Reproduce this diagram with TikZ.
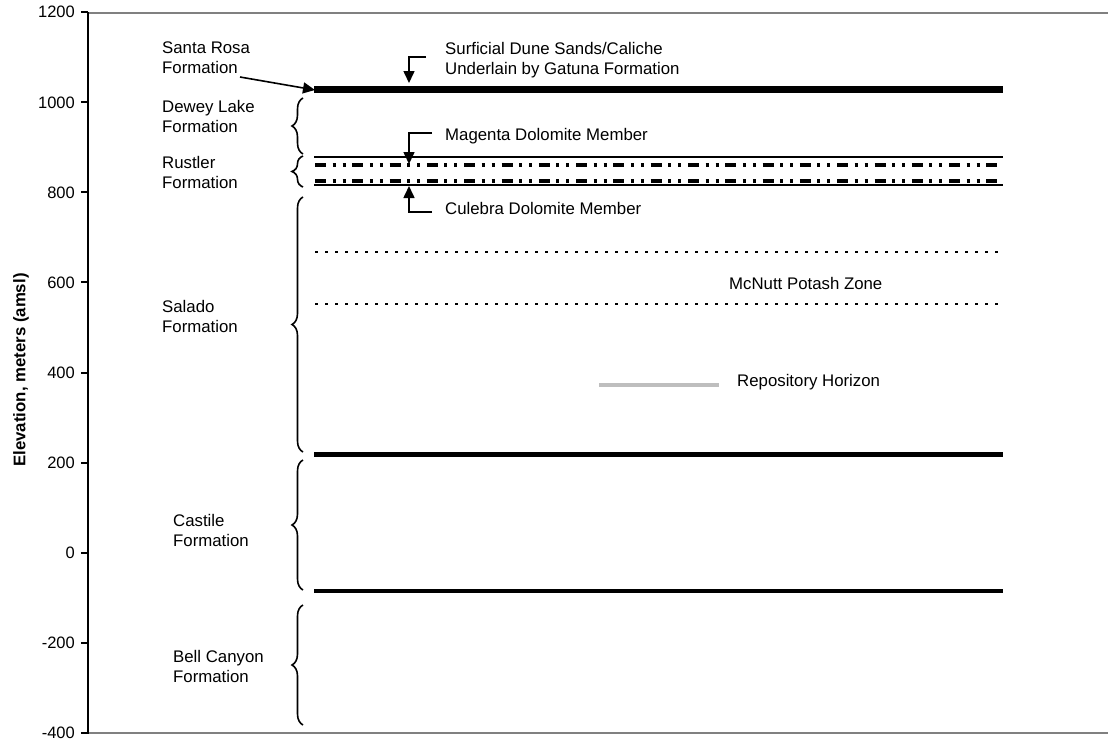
\documentclass[tikz,border=0pt]{standalone}
\usepackage{fontspec}
\setmainfont{Liberation Sans}
\usetikzlibrary{arrows.meta,decorations.pathreplacing}
\definecolor{framegray}{RGB}{128,128,128}
\definecolor{repogray}{RGB}{190,190,190}
\begin{document}
\begin{tikzpicture}[x=1pt,y=-1pt,
  lbl/.style={font=\fontsize{16.8}{20}\selectfont, align=left, anchor=west, inner sep=0pt},
  ticklbl/.style={font=\fontsize{16.5}{20}\selectfont, anchor=east, inner sep=0pt},
  brc/.style={decorate, decoration={brace, amplitude=11pt}, line width=1.6pt},
  arr/.style={line width=1.6pt, -{Triangle[width=11pt,length=12pt]}},
  conn/.style={line width=1.6pt},
  thickbed/.style={line width=7.5pt},
  boldbed/.style={line width=4.5pt},
  thinbed/.style={line width=2pt},
  ddbed/.style={line width=4pt, dash pattern=on 11pt off 6.5pt on 3pt off 7pt on 3pt off 6.8pt},
  dotbed/.style={line width=2pt, dash pattern=on 3pt off 7pt},
  repo/.style={line width=4pt, draw=repogray},
  frame/.style={line width=2pt, draw=framegray},
  axis/.style={line width=2pt}]
\useasboundingbox (0,0) rectangle (1108,742);
% frame
\draw[frame] (88,12.7) -- (1108,12.7);
\draw[frame] (88,732.7) -- (1108,732.7);
\draw[axis] (88,12.3) -- (88,733.5);
% ticks
\foreach \v [count=\i from 0] in {1200,1000,...,-400}{
  \pgfmathsetmacro{\yy}{12.3+0.45025*(1200-\v)}
  \draw[axis] (81,\yy) -- (88,\yy);
  \node[ticklbl] (t\i) at (75,\yy) {\v};
}
\node[rotate=90, font=\fontsize{16.8}{20}\selectfont\bfseries, inner sep=0pt] (ylab) at (21,370) {Elevation, meters (amsl)};
% beds
\draw[thickbed] (314,89.5) -- (1003,89.5);
\draw[thinbed] (314,156.5) -- (1003,156.5);
\draw[ddbed] (315,165) -- (1003,165);
\draw[ddbed] (315,180.5) -- (1003,180.5);
\draw[thinbed] (314,185) -- (1003,185);
\draw[dotbed] (315,251.7) -- (1003,251.7);
\draw[dotbed] (315,304) -- (1003,304);
\draw[repo] (599,384.7) -- (719,384.7);
\draw[boldbed] (314,454.3) -- (1003,454.3);
\draw[boldbed] (314,591) -- (1003,591);
% formation labels
\node[lbl] (srosa) at (162,58) {Santa Rosa\\Formation};
\node[lbl] (dewey) at (162,116) {Dewey Lake\\Formation};
\node[lbl] (rustler) at (162,172) {Rustler\\Formation};
\node[lbl] (salado) at (162,316.5) {Salado\\Formation};
\node[lbl] (castile) at (173,530.5) {Castile\\Formation};
\node[lbl] (bell) at (173,666) {Bell Canyon\\Formation};
% braces
\draw[brc] (303,154) -- (303,98);
\draw[brc] (303,187) -- (303,156);
\draw[brc] (303,452) -- (303,197);
\draw[brc] (303,590) -- (303,460);
\draw[brc] (303,725) -- (303,605);
% right labels
\node[lbl] (surf) at (445,60) {Surficial Dune Sands/Caliche\\Underlain by Gatuna Formation};
\node[lbl] (magenta) at (445,136) {Magenta Dolomite Member};
\node[lbl] (culebra) at (445,208) {Culebra Dolomite Member};
\node[lbl] (mcnutt) at (729,283) {McNutt Potash Zone};
\node[lbl] (repoh) at (737,382) {Repository Horizon};
% connectors
\coordinate (srstart) at (240,77);
\coordinate (srtip) at (315,90);
\draw[arr] (srstart) -- (srtip);
\coordinate (surfA) at (426,57);
\coordinate (surfB) at (409,57);
\coordinate (surfT) at (409,83);
\draw[arr] (surfA) -- (surfB) -- (surfT);
\coordinate (magA) at (432,133);
\coordinate (magB) at (409,133);
\coordinate (magT) at (409,164);
\draw[arr] (magA) -- (magB) -- (magT);
\coordinate (culA) at (432,211.7);
\coordinate (culB) at (409,211.7);
\coordinate (culT) at (409,186);
\draw[arr] (culA) -- (culB) -- (culT);
\end{tikzpicture}
\end{document}
